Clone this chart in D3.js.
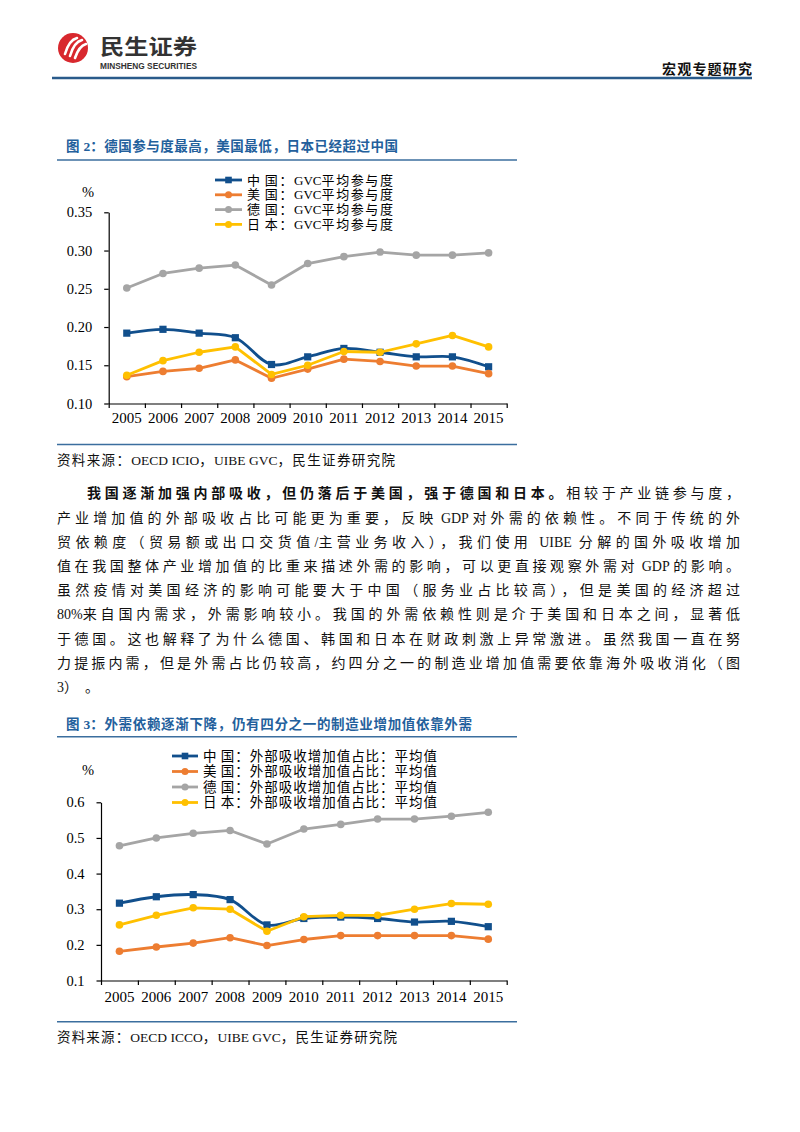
<!DOCTYPE html>
<html><head><meta charset="utf-8">
<script src="https://cdn.jsdelivr.net/npm/d3@7"></script>
<style>html,body{margin:0;padding:0;background:#fff;}svg{display:block;}</style>
</head><body>
<script>
// ---------- data ----------
const years = ["2005","2006","2007","2008","2009","2010","2011","2012","2013","2014","2015"];

const legend1 = ["中 国：GVC平均参与度","美 国：GVC平均参与度","德 国：GVC平均参与度","日 本：GVC平均参与度"];
const gvcChina   = [0.192,0.197,0.192,0.186,0.151,0.161,0.172,0.167,0.161,0.161,0.148];
const gvcUS      = [0.135,0.142,0.146,0.157,0.133,0.145,0.158,0.155,0.149,0.149,0.139];
const gvcGermany = [0.251,0.270,0.277,0.281,0.255,0.283,0.292,0.298,0.294,0.294,0.297];
const gvcJapan   = [0.137,0.156,0.167,0.174,0.138,0.150,0.168,0.167,0.178,0.189,0.174];
const yTicks1 = [0.10,0.15,0.20,0.25,0.30,0.35];

const legend2 = ["中 国：外部吸收增加值占比：平均值","美 国：外部吸收增加值占比：平均值","德 国：外部吸收增加值占比：平均值","日 本：外部吸收增加值占比：平均值"];
const extChina   = [0.317,0.335,0.341,0.327,0.256,0.274,0.278,0.274,0.264,0.266,0.251];
const extUS      = [0.182,0.194,0.205,0.220,0.198,0.215,0.226,0.226,0.226,0.226,0.216];
const extGermany = [0.478,0.500,0.513,0.521,0.483,0.525,0.538,0.553,0.553,0.561,0.572];
const extJapan   = [0.256,0.283,0.304,0.300,0.238,0.279,0.283,0.283,0.300,0.316,0.314];
const yTicks2 = [0.1,0.2,0.3,0.4,0.5,0.6];

const title1 = "图 2：德国参与度最高，美国最低，日本已经超过中国";
const title2 = "图 3：外需依赖逐渐下降，仍有四分之一的制造业增加值依靠外需";
const source1 = "资料来源：OECD ICIO，UIBE GVC，民生证券研究院";
const source2 = "资料来源：OECD ICCO，UIBE GVC，民生证券研究院";
const paraBold = "我国逐渐加强内部吸收，但仍落后于美国，强于德国和日本。";
const paraLines = [
  "相较于产业链参与度，",
  "产业增加值的外部吸收占比可能更为重要，反映 GDP 对外需的依赖性。不同于传统的外",
  "贸依赖度（贸易额或出口交货值/主营业务收入），我们使用  UIBE  分解的国外吸收增加",
  "值在我国整体产业增加值的比重来描述外需的影响，可以更直接观察外需对 GDP 的影响。",
  "虽然疫情对美国经济的影响可能要大于中国（服务业占比较高），但是美国的经济超过",
  "80%来自国内需求，外需影响较小。我国的外需依赖性则是介于美国和日本之间，显著低",
  "于德国。这也解释了为什么德国、韩国和日本在财政刺激上异常激进。虽然我国一直在努",
  "力提振内需，但是外需占比仍较高，约四分之一的制造业增加值需要依靠海外吸收消化（图",
  "3）。"
];

// ---------- styles ----------
const colors = ["#114f8c","#ed7d31","#a5a5a5","#ffc000"];
const shapes = ["square","circle","circle","circle"];
const SERIF = "'Liberation Serif','Times New Roman','Noto Sans CJK SC',serif";
const CJK = "'Noto Sans CJK SC','Liberation Serif',sans-serif";
const BLUE = "#23609c";
const RULE = "#3b6e9e";
const isCJK = ch => /[\u3000-\u303f\u4e00-\u9fff\uff00-\uffef]/.test(ch);

const svg = d3.select("body").append("svg").attr("width",800).attr("height",1132);

// justify: spread extra space over CJK characters only
function justify(el, parts, x0, x1){
  el.attr("x", x0);
  const runs = [];
  parts.forEach(p=>{
    for(const ch0 of p.text){
      const ch = ch0 === " " ? "\u00a0" : ch0;
      const c = isCJK(ch);
      const last = runs[runs.length-1];
      if(last && last.cjk===c && last.bold===!!p.bold) last.t += ch;
      else runs.push({t:ch, cjk:c, bold:!!p.bold});
    }
  });
  runs.forEach(r=>{
    el.append("tspan").text(r.t).style("font-weight", r.bold ? "bold" : null).classed("cj", r.cjk);
  });
  if(x1 == null) return;
  const w0 = el.node().getComputedTextLength();
  const all = parts.map(p=>p.text).join("");
  let n = [...all].filter(isCJK).length;
  if(isCJK([...all].pop())) n -= 1;
  const ls = Math.max(-2,(x1 - x0 - w0) / Math.max(n,1));
  el.selectAll("tspan.cj").style("letter-spacing", ls + "px");
}

// ---------- header ----------
const logo = svg.append("g");
logo.append("circle").attr("cx",73).attr("cy",48).attr("r",15).attr("fill","#d8282e");
[[-8,6,4,-10],[-3,8,9,-8],[2,10,13,-4]].forEach(s=>{
  logo.append("path")
    .attr("d",`M${73+s[0]},${48+s[1]} Q${73+s[0]+4},${48+s[3]+2} ${73+s[2]},${48+s[3]}`)
    .attr("fill","none").attr("stroke","#fff").attr("stroke-width",2.6).attr("stroke-linecap","round");
});
logo.append("text").attr("x",100).attr("y",54).attr("textLength",97).attr("lengthAdjust","spacingAndGlyphs")
  .style("font-family",CJK).style("font-weight","bold").style("font-size","21px").attr("fill","#333").text("民生证券");
logo.append("text").attr("x",100).attr("y",68.5).attr("textLength",97).attr("lengthAdjust","spacingAndGlyphs")
  .style("font-family","'Liberation Sans',Arial,sans-serif").style("font-weight","bold").style("font-size","8.5px").attr("fill","#333").text("MINSHENG SECURITIES");
svg.append("text").attr("x",752).attr("y",73.5).attr("text-anchor","end").attr("textLength",90)
  .style("font-family",CJK).style("font-weight","bold").style("font-size","14px").attr("fill","#111").text("宏观专题研究");
svg.append("line").attr("x1",52).attr("x2",752).attr("y1",78).attr("y2",78).attr("stroke","#2a5b8b").attr("stroke-width",2.5);

// ---------- helpers ----------
function title(t, x0, x1, yc){
  const el = svg.append("text").attr("y",yc).attr("dy","0.36em")
    .style("font-family",SERIF).style("font-weight","bold").style("font-size","13.5px").attr("fill",BLUE);
  justify(el, [{text:t, bold:true}], x0, x1);
}
function rule(y){
  svg.append("line").attr("x1",57).attr("x2",517).attr("y1",y).attr("y2",y).attr("stroke",RULE).attr("stroke-width",1.4);
}
function source(t, x1, yc){
  const el = svg.append("text").attr("y",yc).attr("dy","0.36em")
    .style("font-family",SERIF).style("font-size","13.5px").attr("fill","#111");
  justify(el, [{text:t}], 57, x1);
}

function drawChart(o){
  const g = svg.append("g");
  const x = d3.scaleBand().domain(years).range([o.x0,o.x1]).padding(0);
  const xl = d3.scaleLinear().domain([0,years.length]).range([o.x0,o.x1]);
  const y = d3.scaleLinear().domain([o.yTicks[0],o.yTicks[o.yTicks.length-1]]).range([o.yb,o.yt]);

  const ya = g.append("g").attr("transform",`translate(${o.x0},0)`)
    .call(d3.axisLeft(y).tickValues(o.yTicks).tickFormat(d3.format(o.fmt)).tickSize(4.5).tickSizeOuter(0).tickPadding(o.ypad));
  ya.selectAll("line,path").attr("stroke","#000").attr("stroke-width",1.2);
  ya.selectAll("text").style("font-family",SERIF).style("font-size","14.5px").attr("fill","#000");

  const xa = g.append("g").attr("transform",`translate(0,${o.yb})`)
    .call(d3.axisBottom(xl).ticks(years.length).tickFormat("").tickSize(4.5).tickSizeOuter(0));
  xa.selectAll("line,path").attr("stroke","#000").attr("stroke-width",1.2);
  const xlab = g.append("g").attr("transform",`translate(0,${o.yb})`)
    .call(d3.axisBottom(x).tickSize(0).tickPadding(o.xpad));
  xlab.select(".domain").remove();
  xlab.selectAll("text").style("font-family",SERIF).style("font-size","15px").attr("fill","#000");

  g.append("text").attr("x",o.pctX).attr("y",o.pctY).attr("dy","0.35em").attr("text-anchor","middle")
    .style("font-family",SERIF).style("font-size","14.5px").text("%");

  const cx = d => x(d) + x.bandwidth()/2;
  o.series.forEach((vals,i)=>{
    const line = d3.line().x((d,j)=>cx(years[j])).y(d=>y(d))
      .curve(i===0 ? d3.curveCatmullRom.alpha(0.5) : d3.curveLinear);
    g.append("path").datum(vals).attr("d",line).attr("fill","none")
      .attr("stroke",colors[i]).attr("stroke-width",2.8).attr("stroke-linejoin","round");
    const m = g.append("g");
    vals.forEach((v,j)=>{
      if(shapes[i]==="square"){
        m.append("rect").attr("x",cx(years[j])-3.6).attr("y",y(v)-3.6).attr("width",7.2).attr("height",7.2).attr("fill",colors[i]);
      } else {
        m.append("circle").attr("cx",cx(years[j])).attr("cy",y(v)).attr("r",3.8).attr("fill",colors[i]);
      }
    });
  });

  o.legend.forEach((t,i)=>{
    const ly = o.legY0 + i*o.legDy;
    g.append("line").attr("x1",o.legX0).attr("x2",o.legX1).attr("y1",ly).attr("y2",ly)
      .attr("stroke",colors[i]).attr("stroke-width",2.8);
    const mx = (o.legX0+o.legX1)/2;
    if(shapes[i]==="square"){
      g.append("rect").attr("x",mx-3.3).attr("y",ly-3.3).attr("width",6.6).attr("height",6.6).attr("fill",colors[i]);
    } else {
      g.append("circle").attr("cx",mx).attr("cy",ly).attr("r",3.5).attr("fill",colors[i]);
    }
    const el = g.append("text").attr("y",ly).attr("dy","0.36em")
      .style("font-family",SERIF).style("font-size",o.legFs).attr("fill","#000");
    justify(el, [{text:t}], o.legTx, o.legTx + o.legTw);
  });
}

// ---------- figure 2 ----------
title(title1, 66, 398, 146.5);
rule(160);
drawChart({
  x0:108.7, x1:506.7, yb:403.5, yt:212.3, yTicks:yTicks1, fmt:".2f", ypad:12, xpad:9,
  pctX:88, pctY:191.5,
  series:[gvcChina,gvcUS,gvcGermany,gvcJapan], legend:legend1,
  legX0:215, legX1:242, legY0:180, legDy:14.8, legTx:247, legTw:146, legFs:"13px"
});
rule(444.5);
source(source1, 395, 460.5);

// ---------- paragraph ----------
const lineH = 24.2, firstY = 493.3;
paraLines.forEach((t,i)=>{
  const yc = firstY + i*lineH;
  const tx = svg.append("text").attr("y",yc).attr("dy","0.36em")
    .style("font-family",SERIF).style("font-size","14px").attr("fill","#111");
  if(i===0){
    justify(tx, [{text:paraBold, bold:true},{text:t}], 87, 740);
  } else if(i < paraLines.length-1){
    justify(tx, [{text:t}], 57, 740);
  } else {
    justify(tx, [{text:t}], 57, 57 + 42);
  }
});

// ---------- figure 3 ----------
title(title2, 66, 472, 724);
rule(736.7);
drawChart({
  x0:101, x1:506.7, yb:980.5, yt:802.3, yTicks:yTicks2, fmt:".1f", ypad:12, xpad:10.5,
  pctX:88, pctY:770,
  series:[extChina,extUS,extGermany,extJapan], legend:legend2,
  legX0:172, legX1:198, legY0:756, legDy:15.5, legTx:203, legTw:234, legFs:"13.5px"
});
rule(1021.7);
source(source2, 397, 1037.3);
</script>
</body></html>
